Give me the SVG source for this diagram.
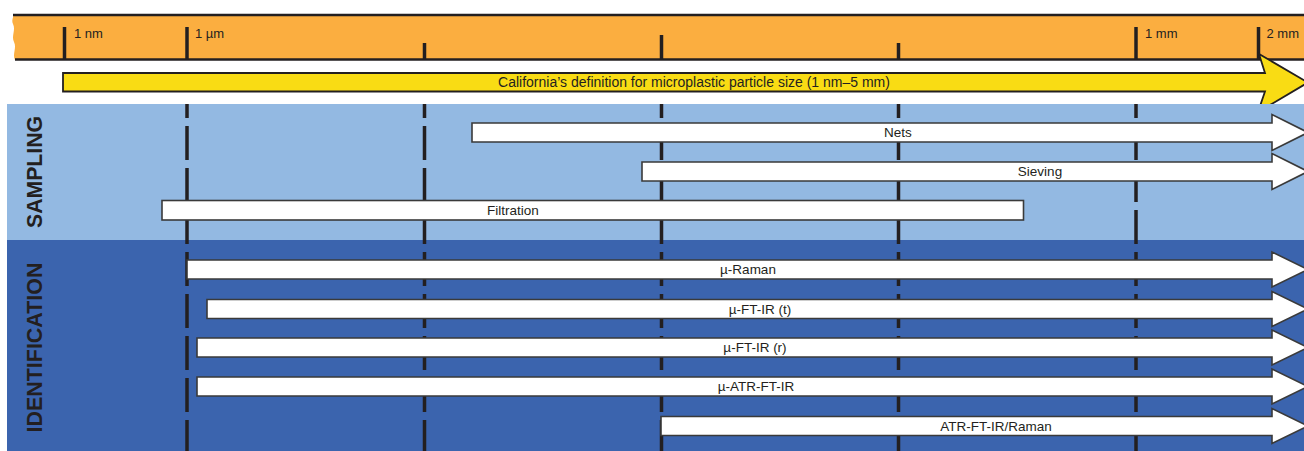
<svg xmlns="http://www.w3.org/2000/svg" width="1304" height="451" viewBox="0 0 1304 451">
  <defs>
    <style>
      .lbl { font-family: "Liberation Sans", Arial, sans-serif; fill: #231f20; }
      .tick { stroke: #231f20; stroke-width: 3.5; }
      .grid { stroke: #231f20; stroke-width: 3.5; stroke-dasharray: 34 8; stroke-dashoffset: 20; fill: none; }
      .bar { fill: #ffffff; stroke: #3a3a3a; stroke-width: 1.6; stroke-linejoin: miter; }
      .barlbl { font-family: "Liberation Sans", Arial, sans-serif; font-size: 13.5px; fill: #231f20; text-anchor: middle; }
      .side { font-family: "Liberation Sans", Arial, sans-serif; font-size: 22px; font-weight: bold; fill: #231f20; text-anchor: middle; }
    </style>
  </defs>
  <rect x="0" y="0" width="1304" height="451" fill="#ffffff"/>

  <!-- scale bar -->
  <g id="scale">
    <path d="M13,15 H1304 V60 H15 C12,54 17,48 14,42 C11,36 16,30 13,24 C11,20 14,17 13,15 Z" fill="#fbae40"/>
    <line x1="13" y1="15" x2="1304" y2="15" stroke="#231f20" stroke-width="2.5"/>
    <line x1="15" y1="59.6" x2="1304" y2="59.6" stroke="#231f20" stroke-width="2.5"/>
    <line class="tick" x1="64.5" y1="27" x2="64.5" y2="60"/>
    <line class="tick" x1="187" y1="27" x2="187" y2="60"/>
    <line class="tick" x1="424.5" y1="43" x2="424.5" y2="60"/>
    <line class="tick" x1="661.5" y1="35" x2="661.5" y2="60"/>
    <line class="tick" x1="898.5" y1="43" x2="898.5" y2="60"/>
    <line class="tick" x1="1136" y1="27" x2="1136" y2="60"/>
    <line class="tick" x1="1258.5" y1="27" x2="1258.5" y2="60"/>
    <text class="lbl" x="74" y="37.5" font-size="13">1 nm</text>
    <text class="lbl" x="195" y="37.5" font-size="13">1 µm</text>
    <text class="lbl" x="1145" y="37.5" font-size="13">1 mm</text>
    <text class="lbl" x="1266.5" y="37.5" font-size="13">2 mm</text>
  </g>

  <!-- California definition arrow -->
  <g id="california">
    <path d="M63,73 H1265 L1259,54 L1308,82.5 L1258,112 L1265,91.5 H63 Z" fill="#f9dc14" stroke="#231f20" stroke-width="1.8" stroke-linejoin="miter"/>
    <text class="lbl" x="694" y="87" font-size="14" text-anchor="middle">California’s definition for microplastic particle size (1 nm–5 mm)</text>
  </g>

  <!-- bands -->
  <g id="sampling-band">
    <rect x="7" y="104" width="1297" height="136" fill="#93b9e2"/>
    <text class="side" transform="translate(41.5,172) rotate(-90)" textLength="112" lengthAdjust="spacingAndGlyphs">SAMPLING</text>
  </g>
  <g id="identification-band">
    <rect x="7" y="240" width="1297" height="211" fill="#3b64ae"/>
    <text class="side" transform="translate(41.5,347.5) rotate(-90)" textLength="170" lengthAdjust="spacingAndGlyphs">IDENTIFICATION</text>
  </g>

  <!-- gridlines -->
  <g id="connectors">
    <line class="grid" x1="187" y1="104" x2="187" y2="451"/>
    <line class="grid" x1="424.5" y1="104" x2="424.5" y2="451"/>
    <line class="grid" x1="661.5" y1="104" x2="661.5" y2="451"/>
    <line class="grid" x1="898.5" y1="104" x2="898.5" y2="451"/>
    <line class="grid" x1="1136" y1="104" x2="1136" y2="451"/>
  </g>

  <!-- sampling methods -->
  <g id="nets">
    <path class="bar" d="M472,123 H1272 V114.5 L1308,132.5 L1272,150.5 V142 H472 Z"/>
    <text class="barlbl" x="898" y="137.3">Nets</text>
  </g>
  <g id="sieving">
    <path class="bar" d="M642,162 H1272 V153.5 L1308,171.5 L1272,189.5 V181 H642 Z"/>
    <text class="barlbl" x="1040" y="176.3">Sieving</text>
  </g>
  <g id="filtration">
    <rect class="bar" x="162" y="200.5" width="861.5" height="19.5"/>
    <text class="barlbl" x="513" y="215">Filtration</text>
  </g>

  <!-- identification methods -->
  <g id="mu-raman">
    <path class="bar" d="M187,260 H1272 V252 L1308,269.5 L1272,287 V279 H187 Z"/>
    <text class="barlbl" x="748" y="274.3">µ-Raman</text>
  </g>
  <g id="mu-ftir-t">
    <path class="bar" d="M207,299.5 H1272 V291.5 L1308,309 L1272,326.5 V318.5 H207 Z"/>
    <text class="barlbl" x="760" y="313.8">µ-FT-IR (t)</text>
  </g>
  <g id="mu-ftir-r">
    <path class="bar" d="M197,338 H1272 V330 L1308,347.5 L1272,365 V357 H197 Z"/>
    <text class="barlbl" x="755" y="352.3">µ-FT-IR (r)</text>
  </g>
  <g id="mu-atr-ftir">
    <path class="bar" d="M197,377 H1272 V369 L1308,386.5 L1272,404 V396 H197 Z"/>
    <text class="barlbl" x="756" y="391.3">µ-ATR-FT-IR</text>
  </g>
  <g id="atr-ftir-raman">
    <path class="bar" d="M661,416.5 H1272 V408.5 L1308,426 L1272,443.5 V435.5 H661 Z"/>
    <text class="barlbl" x="996" y="430.8">ATR-FT-IR/Raman</text>
  </g>
</svg>
